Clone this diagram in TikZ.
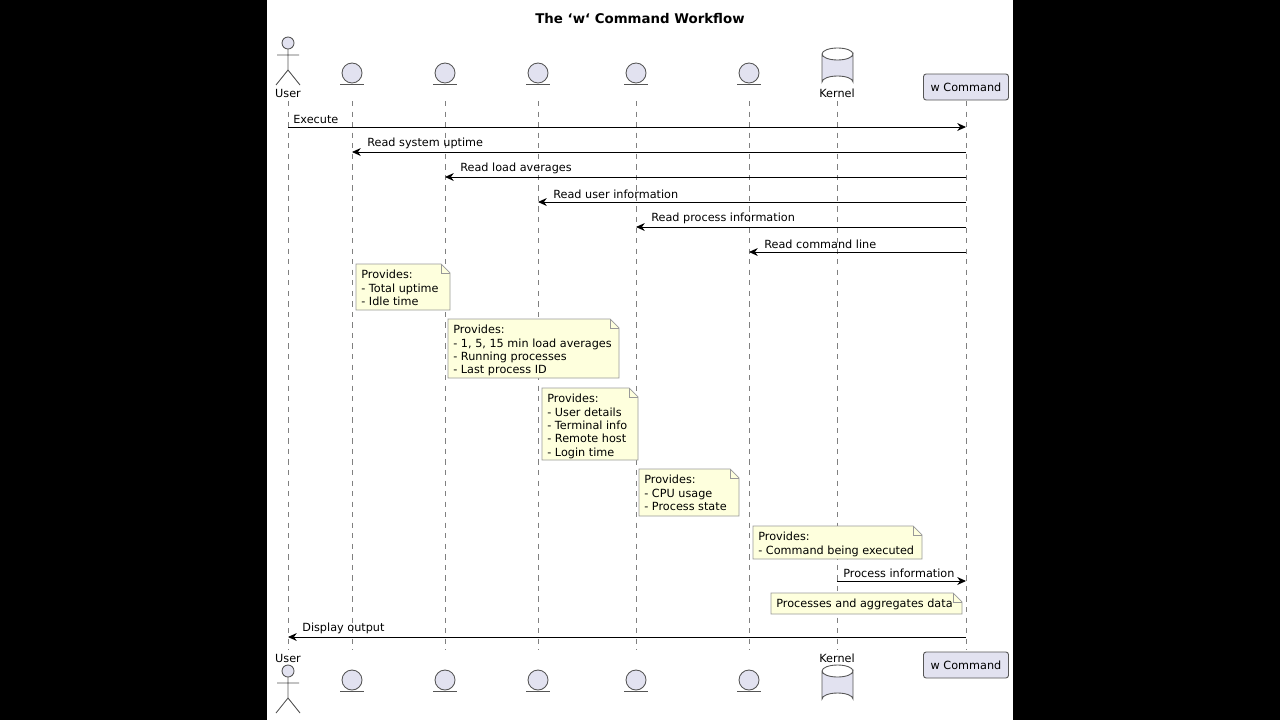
\documentclass[tikz,border=0pt]{standalone}
\usepackage{fontspec}
\setmainfont{DejaVu Sans}
\usetikzlibrary{arrows.meta}
\definecolor{partfill}{HTML}{E2E2F0}
\definecolor{partline}{HTML}{555555}
\definecolor{notefill}{HTML}{FEFFDD}
\definecolor{noteline}{HTML}{999999}
\tikzset{
  lbl/.style={font=\fontsize{6.4}{7.6}\selectfont, inner sep=0pt},
  msg/.style={-{Stealth[length=5pt,width=4.5pt]}, line width=0.5pt},
  lifeline/.style={dashed, draw=gray, line width=0.35pt, dash pattern=on 3pt off 3pt},
  partbox/.style={draw=partline, fill=partfill, rounded corners=1.5pt, line width=0.5pt},
}
% folded note: #1 left, #2 top, #3 right, #4 bottom
\newcommand{\notebox}[5]{
  \draw[draw=noteline, fill=notefill, line width=0.4pt]
    (#1,#2) -- (#3-9,#2) -- (#3,#2+9) -- (#3,#4) -- (#1,#4) -- cycle;
  \draw[draw=noteline, line width=0.4pt] (#3-9,#2) -- (#3-9,#2+9) -- (#3,#2+9);
  \node[lbl, anchor=north west, align=left] at (#1+5,#2+6) {#5};
}
\begin{document}
\begin{tikzpicture}[x=0.02cm, y=-0.02cm]
  \fill[black] (0,0) rectangle (1280,720);
  \fill[white] (267,0) rectangle (1013,720);
  \useasboundingbox (0,0) rectangle (1280,720);
  \node[font=\fontsize{7.6}{9}\selectfont\bfseries] (title) at (640,19) {The `w` Command Workflow};
  % lifelines and labels
  \foreach \name/\xpos/\txt in {user/288/User, uptime/352//proc/uptime, loadavg/445//proc/loadavg,
      utmp/538//var/run/utmp, stat/636//proc/[pid]/stat, cmdline/749//proc/[pid]/cmdline, kernel/837/Kernel}
  {
    \draw[lifeline] (\xpos,101) -- (\xpos,650);
    \node[lbl] (\name_top) at (\xpos,93) {\txt};
    \node[lbl] (\name_bot) at (\xpos,658) {\txt};
  }
  \draw[lifeline] (966,101) -- (966,650);
  % entity heads
  \foreach \xpos in {352,445,538,636,749}
  {
    \foreach \yc in {73,680}
    {
      \draw[partline, fill=partfill, line width=0.5pt] (\xpos,\yc) circle (10);
      \draw[partline, line width=0.5pt] (\xpos-12,\yc+11) -- (\xpos+12,\yc+11);
    }
  }
  % actor
  \foreach \yt in {37,665}
  {
    \draw[partline, fill=partfill, line width=0.5pt] (288,\yt+6) circle (6);
    \draw[partline, line width=0.5pt] (288,\yt+12) -- (288,\yt+33)
      (277,\yt+18) -- (299,\yt+18)
      (276,\yt+48) -- (288,\yt+33) -- (300,\yt+48);
  }
  % database
  \foreach \yt in {48,665}
  {
    \draw[partline, fill=partfill, line width=0.5pt]
      (822,\yt+6) -- (822,\yt+34) arc[start angle=180, end angle=360, x radius=15.5, y radius=6]
      -- (853,\yt+6) arc[start angle=0, end angle=180, x radius=15.5, y radius=6];
    \draw[partline, line width=0.5pt] (822,\yt+6) arc[start angle=180, end angle=360, x radius=15.5, y radius=6];
  }
  \node[partbox, lbl, minimum width=85*0.02cm, minimum height=26*0.02cm] (w_top) at (966,87) {w Command};
  \node[partbox, lbl, minimum width=85*0.02cm, minimum height=26*0.02cm] (w_bot) at (966,665) {w Command};
  % messages
  \coordinate (c_exec_u) at (288,127); \coordinate (c_exec_w) at (966,127);
  \draw[msg] (c_exec_u) -- (c_exec_w);
  \node[lbl, anchor=south west] (m_exec) at (293,124) {Execute};
  \foreach \yy/\xpos/\txt in {152/352/Read system uptime, 177/445/Read load averages,
      202/538/Read user information, 227/636/Read process information, 252/749/Read command line}
  {
    \coordinate (from_\yy) at (966,\yy);
    \coordinate (to_\yy) at (\xpos,\yy);
    \draw[msg] (from_\yy) -- (to_\yy);
    \node[lbl, anchor=south west] at (\xpos+15,\yy-3) {\txt};
  }
  % notes
  \notebox{356}{264}{450}{310}{Provides:\\- Total uptime\\- Idle time}
  \notebox{448}{319}{619}{378}{Provides:\\- 1, 5, 15 min load averages\\- Running processes\\- Last process ID}
  \notebox{542}{388}{638}{460}{Provides:\\- User details\\- Terminal info\\- Remote host\\- Login time}
  \notebox{639}{469}{739}{516}{Provides:\\- CPU usage\\- Process state}
  \notebox{753}{526}{922}{559}{Provides:\\- Command being executed}
  \coordinate (k_proc) at (837,581); \coordinate (w_proc) at (966,581);
  \draw[msg] (k_proc) -- (w_proc);
  \node[lbl, anchor=south west] at (843,578) {Process information};
  \notebox{771}{593}{962}{614}{Processes and aggregates data}
  \coordinate (w_disp) at (966,637); \coordinate (u_disp) at (288,637);
  \draw[msg] (w_disp) -- (u_disp);
  \node[lbl, anchor=south west] at (302,634) {Display output};
\end{tikzpicture}
\end{document}
